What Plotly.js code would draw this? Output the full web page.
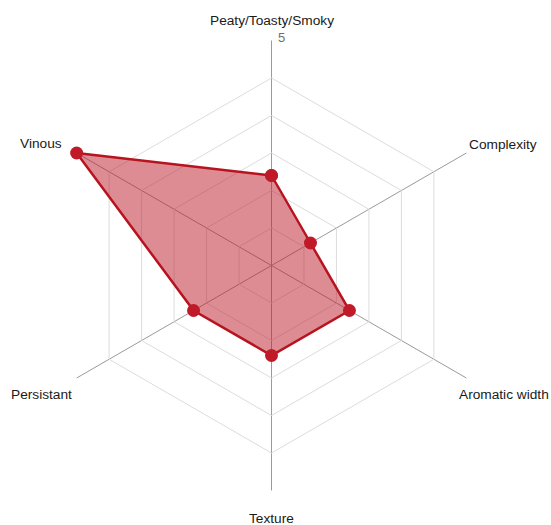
<!DOCTYPE html>
<html>
<head>
<meta charset="utf-8">
<script src="https://cdn.plot.ly/plotly-3.0.1.min.js"></script>
<style>html,body{margin:0;padding:0;background:#fff;}#chart{width:551px;height:525px;}</style>
</head>
<body>
<div id="chart"></div>
<script>
const categories = ["Peaty/Toasty/Smoky", "Complexity", "Aromatic width", "Texture", "Persistant", "Vinous"];
const values = [2, 1, 2, 2, 2, 5];
const ringValues = [5/6, 10/6, 15/6, 20/6, 25/6];
const maxValue = 5;
const maxLabel = "5";

// label placement (pixels from top-left), one per category: [x, y, xanchor]
const labelPlacement = [
  [271.5, 20.5, 'center'],
  [468.5, 144.5, 'left'],
  [458.5, 394, 'left'],
  [271.5, 518.5, 'center'],
  [71.5, 394, 'right'],
  [61.5, 144, 'right']
];

const W = 551, H = 525;
const theta = categories.concat([categories[0]]);
const r = values.concat([values[0]]);

const trace = {
  type: 'scatterpolar',
  r: r,
  theta: theta,
  mode: 'lines+markers',
  fill: 'toself',
  fillcolor: 'rgba(190,25,40,0.5)',
  line: {color: '#b8141f', width: 2.5},
  marker: {color: '#c01a28', size: 13},
  hoverinfo: 'skip',
  cliponaxis: false
};

const annotations = categories.map((c, i) => ({
  text: c,
  xref: 'paper', yref: 'paper',
  x: labelPlacement[i][0] / W, y: 1 - labelPlacement[i][1] / H,
  xanchor: labelPlacement[i][2], yanchor: 'middle',
  showarrow: false, borderpad: 0, borderwidth: 0,
  font: {size: 13.7, color: '#1a1a1a'}
}));
annotations.push({
  text: maxLabel,
  xref: 'paper', yref: 'paper',
  x: 278 / W, y: 1 - 37 / H,
  xanchor: 'left', yanchor: 'middle',
  showarrow: false, borderpad: 0, borderwidth: 0,
  font: {size: 13, color: '#707070'}
});

const layout = {
  width: W, height: H,
  margin: {l: 0, r: 0, t: 0, b: 0},
  paper_bgcolor: '#fff',
  showlegend: false,
  font: {family: 'Liberation Sans, Arial, Helvetica, sans-serif', size: 13, color: '#1a1a1a'},
  polar: {
    domain: {x: [46.5/W, 496.5/W], y: [34.5/H, 484.5/H]},
    gridshape: 'linear',
    bgcolor: 'rgba(0,0,0,0)',
    radialaxis: {
      range: [0, maxValue],
      tickvals: ringValues,
      showticklabels: false,
      ticks: '',
      showline: false,
      gridcolor: '#dcdcdc',
      gridwidth: 1,
      angle: 90
    },
    angularaxis: {
      rotation: 90,
      direction: 'clockwise',
      showline: false,
      gridcolor: '#9a9a9a',
      gridwidth: 1,
      ticks: '',
      showticklabels: false
    }
  },
  annotations: annotations
};

Plotly.newPlot('chart', [trace], layout, {displayModeBar: false, staticPlot: true});
</script>
</body>
</html>
